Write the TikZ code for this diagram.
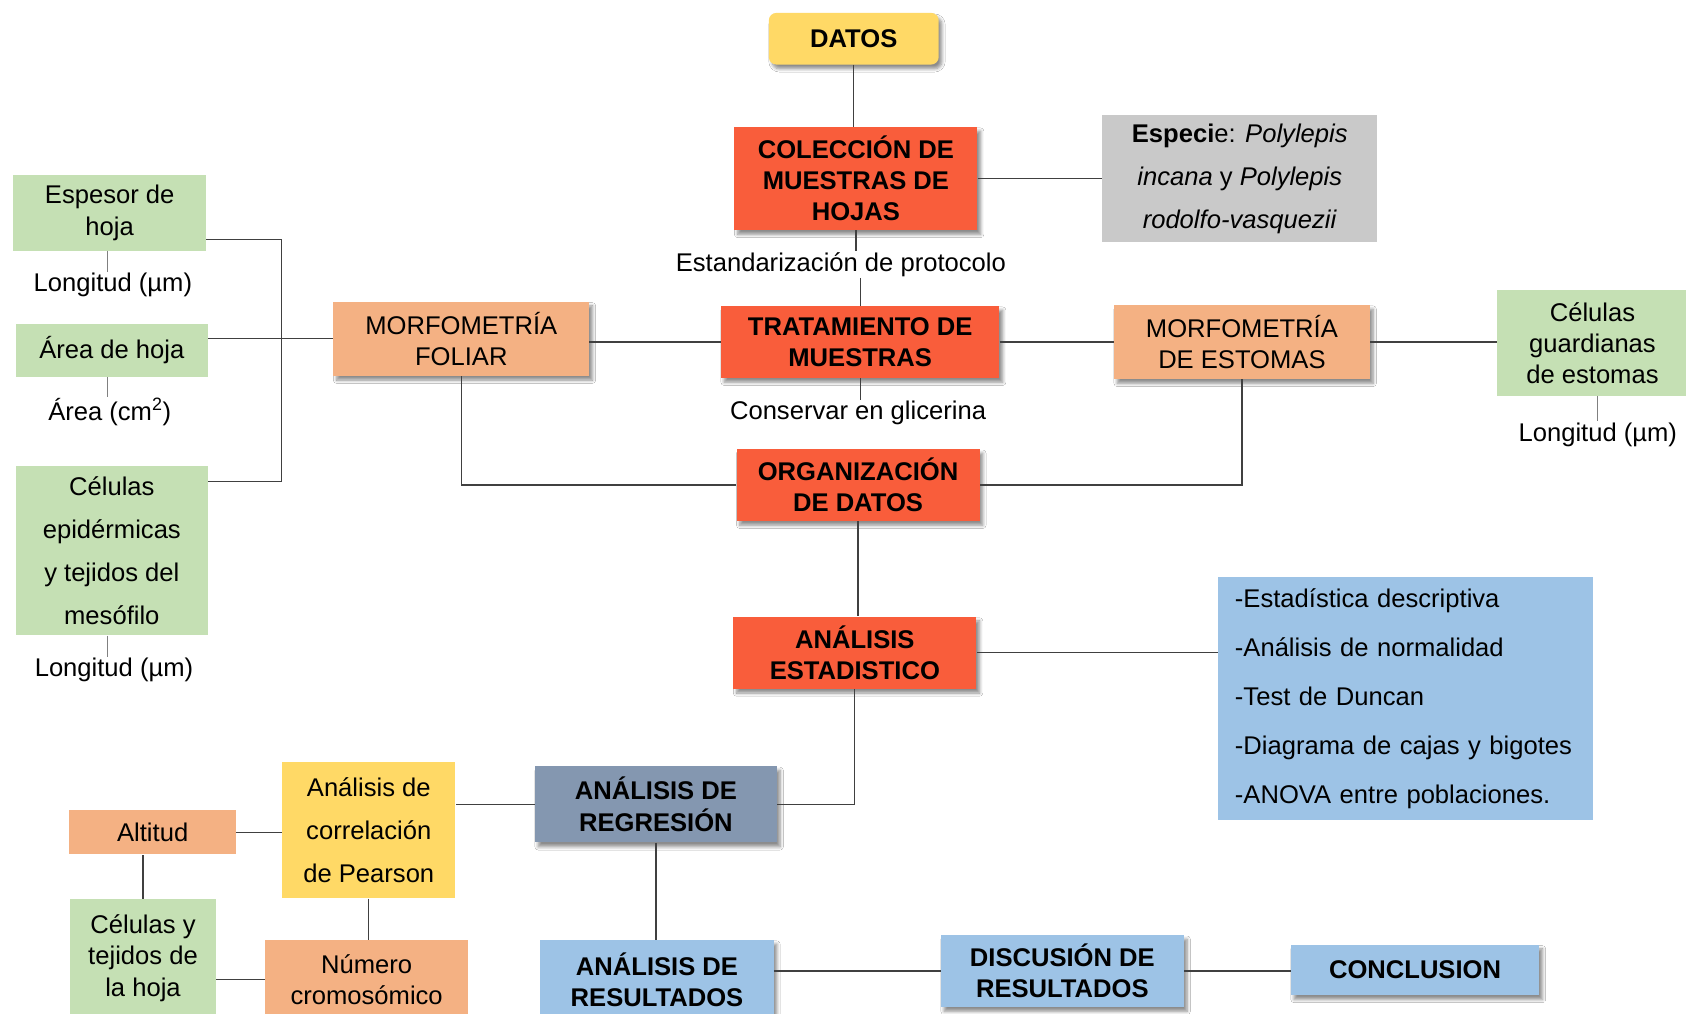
\documentclass[tikz,border=0pt]{standalone}
\usepackage{fontspec}
\setmainfont{Liberation Sans}
\usetikzlibrary{shadows.blur}

\definecolor{rojo}{HTML}{F95D3B}
\definecolor{amarillo}{HTML}{FFD966}
\definecolor{naranja}{HTML}{F4B183}
\definecolor{verde}{HTML}{C5E0B4}
\definecolor{gris}{HTML}{C9C9C9}
\definecolor{celeste}{HTML}{9DC3E6}
\definecolor{azulgris}{HTML}{8497B0}
\definecolor{linea}{HTML}{404040}

\begin{document}
\begin{tikzpicture}[x=1pt,y=-1pt,
    caja/.style={rectangle, align=center, inner sep=1pt, font=\fontsize{23.8}{29}\selectfont},
    sombra/.style={blur shadow={shadow xshift=3pt, shadow yshift=-4pt, shadow blur steps=6, shadow blur radius=3pt, shadow opacity=45}},
    fuerte/.style={caja, sombra, font=\fontsize{23.8}{29}\selectfont\bfseries},
    etiqueta/.style={inner sep=1pt, font=\fontsize{23.8}{29}\selectfont},
    lnk/.style={draw=linea, line width=1.1pt},
    fino/.style={draw=gray, line width=0.8pt}]
    \clip (0,0) rectangle (1568,943);
    \fill[white] (0,0) rectangle (1568,943);
    % eje central
    \node[fuerte, fill=amarillo, rounded corners=7pt, minimum width=158, minimum height=48] (datos) at (794,36) {DATOS};
    \node[fuerte, fill=rojo, minimum width=226, minimum height=96] (coleccion) at (796,166) {COLECCIÓN DE\\MUESTRAS DE\\HOJAS};
    \node[caja, fill=gris, minimum width=256, minimum height=119, font=\fontsize{23.8}{40}\selectfont] (especie) at (1153,166) {\textbf{Especi}e: \textit{Polylepis}\\\textit{incana} y \textit{Polylepis}\\\textit{rodolfo-vasquezii}};
    \node[etiqueta] (protocolo) at (782,246) {Estandarización de protocolo};
    \node[fuerte, fill=rojo, minimum width=259, minimum height=67] (tratamiento) at (800,318) {TRATAMIENTO DE\\MUESTRAS};
    \node[etiqueta] (glicerina) at (798,384) {Conservar en glicerina};
    \node[fuerte, fill=rojo, minimum width=226, minimum height=67] (organizacion) at (798,451) {ORGANIZACIÓN\\DE DATOS};
    \node[fuerte, fill=rojo, minimum width=226, minimum height=67] (estadistico) at (795,607) {ANÁLISIS\\ESTADISTICO};
    \node[fuerte, fill=azulgris, minimum width=225, minimum height=71] (regresion) at (610,748) {ANÁLISIS DE\\REGRESIÓN};
    \node[fuerte, fill=celeste, minimum width=217, minimum height=74] (resultados) at (611,911) {ANÁLISIS DE\\RESULTADOS};
    \node[fuerte, fill=celeste, minimum width=226, minimum height=67] (discusion) at (988,903) {DISCUSIÓN DE\\RESULTADOS};
    \node[fuerte, fill=celeste, minimum width=231, minimum height=47] (conclusion) at (1316,902) {CONCLUSION};
    % morfometria
    \node[caja, sombra, fill=naranja, minimum width=238, minimum height=69] (foliar) at (429,315) {MORFOMETRÍA\\FOLIAR};
    \node[caja, sombra, fill=naranja, minimum width=238, minimum height=69] (estomas) at (1155,318) {MORFOMETRÍA\\DE ESTOMAS};
    \node[caja, fill=verde, minimum width=178, minimum height=98] (guardianas) at (1481,319) {Células\\guardianas\\de estomas};
    \node[etiqueta] (longitud4) at (1486,404) {Longitud (µm)};
    \node[caja, fill=verde, minimum width=179, minimum height=70] (espesor) at (102,198) {Espesor de\\hoja};
    \node[etiqueta] (longitud1) at (105,265) {Longitud (µm)};
    \node[caja, fill=verde, minimum width=179, minimum height=49] (area) at (104,326) {Área de hoja};
    \node[etiqueta] (areacm) at (102,383) {Área (cm\textsuperscript{2})};
    \node[caja, fill=verde, minimum width=179, minimum height=158, font=\fontsize{23.8}{40}\selectfont] (epidermicas) at (104,512) {Células\\epidérmicas\\y tejidos del\\mesófilo};
    \node[etiqueta] (longitud3) at (106,623) {Longitud (µm)};
    % estadistica
    \node[caja, fill=celeste, minimum width=349, minimum height=226, align=left, text width=317, font=\fontsize{23.8}{45.5}\selectfont] (pruebas) at (1307,650) {-Estadística descriptiva\\-Análisis de normalidad\\-Test de Duncan\\-Diagrama de cajas y bigotes\\-ANOVA entre poblaciones.};
    % correlacion
    \node[caja, fill=amarillo, minimum width=161, minimum height=127, font=\fontsize{23.8}{40}\selectfont] (pearson) at (343,772) {Análisis de\\correlación\\de Pearson};
    \node[caja, fill=naranja, minimum width=155, minimum height=41] (altitud) at (142,774) {Altitud};
    \node[caja, fill=verde, minimum width=136, minimum height=110] (celhoja) at (133,891) {Células y\\tejidos de\\la hoja};
    \node[caja, fill=naranja, minimum width=189, minimum height=74] (cromosoma) at (341,911) {Número\\cromosómico};
    \coordinate (llave1) at (262,223);
    \coordinate (llave2) at (262,448);

    \draw[lnk] (datos.south) -- (datos.south |- coleccion.north);
    \draw[lnk] (coleccion.east) -- (coleccion.east -| especie.west);
    \draw[lnk] (coleccion.south) -- (coleccion.south |- protocolo.north);
    \draw[lnk] (protocolo.south -| tratamiento.north) -- (tratamiento.north);
    \draw[lnk] (tratamiento.south) -- (tratamiento.south |- glicerina.north);
    \draw[lnk] (foliar.east |- tratamiento.west) -- (tratamiento.west);
    \draw[lnk] (tratamiento.east) -- (tratamiento.east -| estomas.west);
    \draw[lnk] (estomas.east) -- (estomas.east -| guardianas.west);
    \draw[fino] (guardianas.south -| longitud4.north) -- (longitud4.north);
    \draw[lnk] (foliar.south) |- (organizacion.west);
    \draw[lnk] (estomas.south) |- (organizacion.east);
    \draw[lnk] (organizacion.south) -- (organizacion.south |- estadistico.north);
    \draw[lnk] (estadistico.east) -- (estadistico.east -| pruebas.west);
    \draw[lnk] (estadistico.south) |- (regresion.east);
    \draw[lnk] (regresion.west) -- (regresion.west -| pearson.east);
    \draw[lnk] (altitud.east) -- (altitud.east -| pearson.west);
    \draw[lnk] (celhoja.north) -- (celhoja.north |- altitud.south);
    \draw[lnk] (pearson.south) -- (pearson.south |- cromosoma.north);
    \draw[lnk] (cromosoma.west) -- (cromosoma.west -| celhoja.east);
    \draw[lnk] (regresion.south) -- (regresion.south |- resultados.north);
    \draw[lnk] (discusion.west -| resultados.east) -- (discusion.west);
    \draw[lnk] (discusion.east) -- (discusion.east -| conclusion.west);
    % hojas
    \draw[lnk] (espesor.east |- llave1) -- (llave1) -- (llave2) -- (epidermicas.east |- llave2);
    \draw[lnk] (area.east |- foliar.west) -- (foliar.west);
    \draw[fino] (espesor.south -| 100,0) -- (longitud1.north -| 100,0);
    \draw[fino] (area.south -| 100,0) -- (areacm.north -| 100,0);
    \draw[fino] (epidermicas.south -| 100,0) -- (longitud3.north -| 100,0);
\end{tikzpicture}
\end{document}
